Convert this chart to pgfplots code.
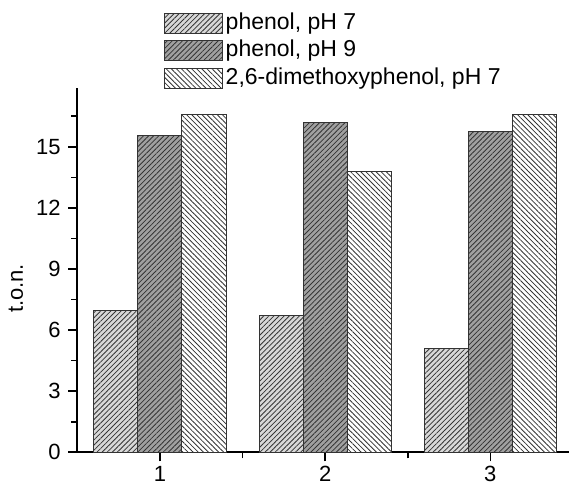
\documentclass[border=0pt,11pt]{standalone}
\usepackage{fontspec}
\setmainfont{Liberation Sans}
\usepackage{pgfplots}
\pgfplotsset{compat=1.18}
\usetikzlibrary{patterns.meta}

\definecolor{edge}{HTML}{333333}
\definecolor{lightfill}{HTML}{D8D8D8}
\definecolor{darkfill}{HTML}{A0A0A0}

\begin{document}
\begin{tikzpicture}
  \begin{axis}[
    scale only axis,
    width=245.85pt, height=182pt,
    xmin=0.5, xmax=3.476,
    ymin=0, ymax=17.87,
    axis lines*=left,
    axis line style={line width=0.8pt},
    ybar=0pt, bar width=0.2667,
    xtick={1,2,3}, minor xtick={1.5,2.5},
    ytick={0,3,...,15}, minor ytick={1.5,4.5,...,16.5},
    tick align=outside,
    major tick length=4.5pt, minor tick length=3pt,
    tick style={line width=0.8pt, black},
    tick label style={font=\fontsize{11}{13}\selectfont},
    xticklabel style={yshift=1.5pt},
    /pgf/number format/assume math mode=true,
    ylabel={t.o.n.},
    ylabel style={at={(axis description cs:-0.125,0.45)}, anchor=center,
      font=\fontsize{11}{13}\selectfont},
    legend style={at={(0.175,1.21)}, anchor=north west,
      draw=none, fill=none, inner sep=0pt, row sep=2.75pt,
      font=\fontsize{11.5}{13.5}\selectfont,
      nodes={inner xsep=1.5pt, inner ysep=0pt, text height=8.5pt, text depth=2.5pt}},
    legend cell align=left,
    legend image code/.code={\draw[#1] (0pt,-5pt) rectangle (29pt,5pt);},
  ]
    \addplot[draw=edge, line width=0.5pt, fill=lightfill,
      postaction={pattern={Lines[angle=45,distance=1.8pt,line width=0.4pt]}, pattern color=edge}]
      coordinates {(1,6.95) (2,6.74) (3,5.10)};
    \addlegendentry{phenol, pH 7}
    \addplot[draw=edge, line width=0.5pt, fill=darkfill,
      postaction={pattern={Lines[angle=45,distance=1.8pt,line width=0.4pt]}, pattern color=edge}]
      coordinates {(1,15.54) (2,16.21) (3,15.77)};
    \addlegendentry{phenol, pH 9}
    \addplot[draw=edge, line width=0.5pt, fill=white,
      postaction={pattern={Lines[angle=-45,distance=1.8pt,line width=0.4pt]}, pattern color=edge}]
      coordinates {(1,16.56) (2,13.78) (3,16.56)};
    \addlegendentry{2,6-dimethoxyphenol, pH 7}
  \end{axis}
  \pgfresetboundingbox
  \path[use as bounding box] (-38.65pt,-15.35pt) rectangle (245.85pt,226.15pt);
\end{tikzpicture}
\end{document}
